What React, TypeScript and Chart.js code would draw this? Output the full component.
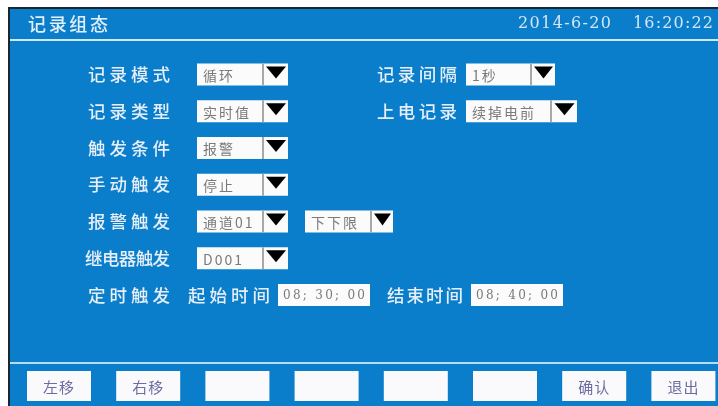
import React, { useEffect, useRef } from 'react';
import { Chart, registerables } from 'chart.js';

Chart.register(...registerables);

const titleText = '记录组态';
const dateText = '2014-6-20';
const clockText = '16:20:22';

const leftLabels = ['记录模式', '记录类型', '触发条件', '手动触发', '报警触发', '继电器触发', '定时触发'];
const leftValues = ['循环', '实时值', '报警', '停止', '通道01', 'D001'];
const rightLabels = ['记录间隔', '上电记录'];
const rightValues = ['1秒', '续掉电前'];
const alarmLimitValue = '下下限';
const timeLabels = ['起始时间', '结束时间'];
const timeValues = ['08; 30; 00', '08; 40; 00'];
const buttonLabels = ['左移', '右移', '', '', '', '', '确认', '退出'];

const BLUE = '#0a7ecb';
const CJK = '"Noto Sans CJK SC", "Noto Sans", sans-serif';
const SERIF = '"DejaVu Serif", serif';

function drawJustified(ctx: CanvasRenderingContext2D, text: string, x0: number, x1: number, y: number) {
  const chars = Array.from(text);
  if (chars.length === 1) {
    ctx.fillText(text, x0, y);
    return;
  }
  const widths = chars.map((c) => ctx.measureText(c).width);
  const total = widths.reduce((a, b) => a + b, 0);
  const gap = (x1 - x0 - total) / (chars.length - 1);
  let x = x0;
  chars.forEach((c, i) => {
    ctx.fillText(c, x, y);
    x += widths[i] + gap;
  });
}

function drawCombo(ctx: CanvasRenderingContext2D, x: number, w: number, aw: number, cy: number, text: string) {
  const h = 22;
  const top = cy - h / 2;
  ctx.fillStyle = '#fbfbfb';
  ctx.fillRect(x, top, w + aw, h);
  ctx.fillStyle = '#a8a8a8';
  ctx.fillRect(x + w, top, 2, h);
  const tw = Math.min(20, aw - 6);
  const tx = x + w + 2 + (aw - 2 - tw) / 2;
  ctx.fillStyle = '#000';
  ctx.beginPath();
  ctx.moveTo(tx, top + 3);
  ctx.lineTo(tx + tw, top + 3);
  ctx.lineTo(tx + tw / 2, top + 15);
  ctx.closePath();
  ctx.fill();
  ctx.fillStyle = '#7a7a7a';
  ctx.font = `14px ${CJK}`;
  ctx.textBaseline = 'middle';
  ctx.textAlign = 'left';
  (ctx as any).letterSpacing = '2px';
  ctx.fillText(text, x + 6, cy + 1);
  (ctx as any).letterSpacing = '0px';
}

const panelPlugin = {
  id: 'panel',
  beforeDraw(chart: Chart) {
    const ctx = chart.ctx;
    const W = chart.width;
    const H = chart.height;
    ctx.save();
    ctx.fillStyle = '#ffffff';
    ctx.fillRect(0, 0, W, H);
    ctx.fillStyle = '#1c2530';
    ctx.fillRect(8, 7, W - 8, H - 7);
    ctx.fillStyle = BLUE;
    ctx.fillRect(10, 9, W - 10, H - 9);
    ctx.fillStyle = '#cfe9f8';
    ctx.fillRect(10, 39, W - 10, 2);
    ctx.fillStyle = '#b4dcf4';
    ctx.fillRect(10, 362, W - 10, 2);

    ctx.textBaseline = 'middle';
    ctx.textAlign = 'left';

    ctx.fillStyle = '#e2eef8';
    ctx.font = `500 18px ${CJK}`;
    drawJustified(ctx, titleText, 28, 108, 24);
    ctx.font = `16px ${SERIF}`;
    ctx.fillStyle = '#d2e6f6';
    drawJustified(ctx, dateText, 518, 611, 24);
    drawJustified(ctx, clockText, 633, 713, 24);

    const rowY = (i: number) => 74.5 + i * 36.75;
    const labelFont = `500 17.5px ${CJK}`;

    ctx.fillStyle = '#e6eef8';
    ctx.font = labelFont;
    leftLabels.forEach((lab, i) => {
      const x0 = lab.length === 5 ? 85 : 88;
      drawJustified(ctx, lab, x0, 170, rowY(i));
    });
    rightLabels.forEach((lab, i) => {
      ctx.fillStyle = '#e6eef8';
      ctx.font = labelFont;
      drawJustified(ctx, lab, 377, 457, rowY(i));
    });
    ctx.fillStyle = '#e6eef8';
    ctx.font = labelFont;
    drawJustified(ctx, timeLabels[0], 188, 270, rowY(6));
    drawJustified(ctx, timeLabels[1], 387, 463, rowY(6));

    leftValues.forEach((v, i) => {
      drawCombo(ctx, 197, 65, 26, rowY(i), v);
    });
    drawCombo(ctx, 305, 65, 23, rowY(4), alarmLimitValue);
    drawCombo(ctx, 466, 64, 25, rowY(0), rightValues[0]);
    drawCombo(ctx, 466, 84, 27, rowY(1), rightValues[1]);

    const timeBoxes = [278, 471];
    timeBoxes.forEach((x, i) => {
      const cy = rowY(6);
      ctx.fillStyle = '#fbfbfb';
      ctx.fillRect(x, cy - 11, 92, 22);
      ctx.fillStyle = '#7a7a7a';
      ctx.font = `12px ${SERIF}`;
      drawJustified(ctx, timeValues[i], x + 5, x + 87, cy + 1);
    });

    buttonLabels.forEach((lab, i) => {
      const x = 27 + i * 89.2;
      ctx.fillStyle = '#fafafc';
      ctx.fillRect(x, 371, 64, 30);
      if (lab) {
        ctx.fillStyle = '#6c6ca0';
        ctx.font = `15px ${CJK}`;
        ctx.textAlign = 'center';
        (ctx as any).letterSpacing = '1px';
        ctx.fillText(lab, x + 32, 387);
        (ctx as any).letterSpacing = '0px';
        ctx.textAlign = 'left';
      }
    });
    ctx.restore();
  },
};

export default function App() {
  const ref = useRef<HTMLCanvasElement | null>(null);
  useEffect(() => {
    document.body.style.margin = '0';
    const canvas = ref.current;
    if (!canvas) return;
    const chart = new Chart(canvas, {
      type: 'bar',
      data: { labels: [], datasets: [] },
      options: {
        responsive: false,
        animation: false,
        events: [],
        layout: { padding: 0 },
        plugins: {
          legend: { display: false },
          tooltip: { enabled: false },
          title: { display: false },
        },
        scales: {
          x: { display: false },
          y: { display: false },
        },
      },
      plugins: [panelPlugin],
    });
    return () => chart.destroy();
  }, []);
  return (
    <div style={{ width: 718, height: 406 }}>
      <canvas ref={ref} width={718} height={406} style={{ display: 'block', width: 718, height: 406 }} />
    </div>
  );
}
